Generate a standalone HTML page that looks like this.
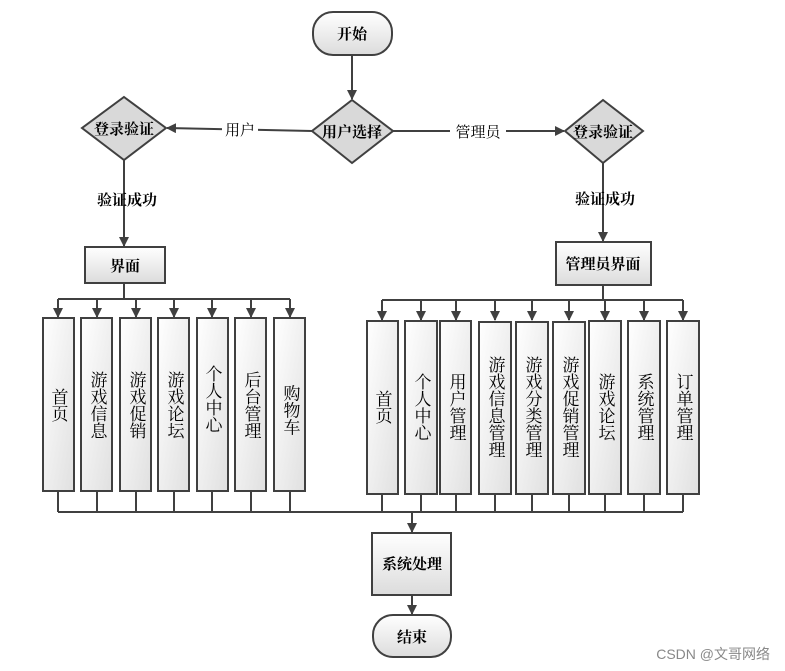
<!DOCTYPE html><html><head><meta charset="utf-8"><style>body{margin:0;background:#fff}svg{display:block}text{font-family:"Liberation Serif","Noto Serif CJK SC",serif;fill:#000}.v{writing-mode:vertical-rl;text-anchor:middle}</style></head><body>
<svg width="785" height="671" viewBox="0 0 785 671" xmlns="http://www.w3.org/2000/svg">
<defs>
<linearGradient id="g" x1="0" y1="0" x2="0" y2="1"><stop offset="0" stop-color="#fff"/><stop offset="1" stop-color="#dcdcdc"/></linearGradient>
<linearGradient id="gv" x1="0" y1="0" x2="1" y2="1"><stop offset="0" stop-color="#fff"/><stop offset="1" stop-color="#e0e0e0"/></linearGradient>
<marker id="a" markerWidth="10" markerHeight="10" refX="9" refY="5" orient="auto" markerUnits="userSpaceOnUse"><path d="M0,0 L10,5 L0,10 z" fill="#404040"/></marker>
</defs>
<g stroke="#404040" stroke-width="2" fill="none">
<line x1="352" y1="55" x2="352" y2="99" marker-end="url(#a)"/>
<line x1="312" y1="131" x2="167" y2="128" marker-end="url(#a)"/>
<line x1="393" y1="131" x2="564" y2="131" marker-end="url(#a)"/>
<line x1="124" y1="160" x2="124" y2="246" marker-end="url(#a)"/>
<line x1="603" y1="163" x2="603" y2="241" marker-end="url(#a)"/>
<line x1="124" y1="283" x2="124" y2="299"/>
<line x1="58" y1="299" x2="290" y2="299"/>
<line x1="603" y1="285" x2="603" y2="300"/>
<line x1="382" y1="300" x2="683" y2="300"/>
<line x1="58" y1="512" x2="683" y2="512"/>
<line x1="412" y1="512" x2="412" y2="532" marker-end="url(#a)"/>
<line x1="412" y1="595" x2="412" y2="614" marker-end="url(#a)"/>
</g>
<g stroke="#404040" stroke-width="2">
<line x1="58" y1="299" x2="58" y2="317" marker-end="url(#a)"/><line x1="97" y1="299" x2="97" y2="317" marker-end="url(#a)"/><line x1="136" y1="299" x2="136" y2="317" marker-end="url(#a)"/><line x1="174" y1="299" x2="174" y2="317" marker-end="url(#a)"/><line x1="212" y1="299" x2="212" y2="317" marker-end="url(#a)"/><line x1="251" y1="299" x2="251" y2="317" marker-end="url(#a)"/><line x1="290" y1="299" x2="290" y2="317" marker-end="url(#a)"/>
<line x1="382" y1="300" x2="382" y2="320" marker-end="url(#a)"/><line x1="421" y1="300" x2="421" y2="320" marker-end="url(#a)"/><line x1="456" y1="300" x2="456" y2="320" marker-end="url(#a)"/><line x1="495" y1="300" x2="495" y2="320" marker-end="url(#a)"/><line x1="532" y1="300" x2="532" y2="320" marker-end="url(#a)"/><line x1="569" y1="300" x2="569" y2="320" marker-end="url(#a)"/><line x1="605" y1="300" x2="605" y2="320" marker-end="url(#a)"/><line x1="644" y1="300" x2="644" y2="320" marker-end="url(#a)"/><line x1="683" y1="300" x2="683" y2="320" marker-end="url(#a)"/>
<path d="M58 491V512M97 491V512M136 491V512M174 491V512M212 491V512M251 491V512M290 491V512M382 494V512M421 494V512M456 494V512M495 494V512M532 494V512M569 494V512M605 494V512M644 494V512M683 494V512" fill="none"/>
</g>
<g stroke="#404040" stroke-width="2" fill="url(#g)">
<rect x="313" y="12" width="79" height="43" rx="20"/>
<rect x="373" y="615" width="78" height="42" rx="20"/>
<polygon points="124,97 166,128 124,160 82,128" fill="#d9d9d9"/>
<polygon points="352,100 393,131 352,163 312,131" fill="#d9d9d9"/>
<polygon points="603,100 643,131 603,163 565,131" fill="#d9d9d9"/>
<rect x="85" y="247" width="80" height="36"/>
<rect x="556" y="242" width="95" height="43"/>
<rect x="372" y="533" width="79" height="62"/>
</g>
<g stroke="#404040" stroke-width="2" fill="url(#gv)">
<rect x="43" y="318" width="31" height="173"/><rect x="81" y="318" width="31" height="173"/><rect x="120" y="318" width="31" height="173"/><rect x="158" y="318" width="31" height="173"/><rect x="197" y="318" width="31" height="173"/><rect x="235" y="318" width="31" height="173"/><rect x="274" y="318" width="31" height="173"/>
<rect x="367" y="321" width="31" height="173"/><rect x="405" y="321" width="32" height="173"/><rect x="440" y="321" width="31" height="173"/><rect x="479" y="322" width="32" height="172"/><rect x="516" y="322" width="32" height="172"/><rect x="553" y="322" width="32" height="172"/><rect x="589" y="321" width="32" height="173"/><rect x="628" y="321" width="32" height="173"/><rect x="667" y="321" width="32" height="173"/>
</g>
<g font-size="15" font-weight="bold" text-anchor="middle">
<text x="352" y="39">开始</text>
<text x="412" y="642">结束</text>
<text x="124" y="134">登录验证</text>
<text x="352" y="137">用户选择</text>
<text x="603" y="137">登录验证</text>
<text x="125" y="271">界面</text>
<text x="603" y="269">管理员界面</text>
<text x="412" y="569">系统处理</text>
<text x="127" y="205">验证成功</text>
<text x="605" y="204">验证成功</text>
</g>
<rect x="222" y="120" width="36" height="18" fill="#fff"/><rect x="450" y="122" width="56" height="18" fill="#fff"/>
<g font-size="15" text-anchor="middle"><text x="240" y="135">用户</text><text x="478" y="137">管理员</text></g>
<g font-size="17">
<text x="58" y="405" class="v">首页</text>
<text x="97" y="405" class="v">游戏信息</text>
<text x="136" y="405" class="v">游戏促销</text>
<text x="174" y="405" class="v">游戏论坛</text>
<text x="212" y="399" class="v">个人中心</text>
<text x="251" y="405" class="v">后台管理</text>
<text x="290" y="410" class="v">购物车</text>
<text x="382" y="407" class="v">首页</text>
<text x="421" y="407" class="v">个人中心</text>
<text x="456" y="407" class="v">用户管理</text>
<text x="495" y="407" class="v">游戏信息管理</text>
<text x="532" y="407" class="v">游戏分类管理</text>
<text x="569" y="407" class="v">游戏促销管理</text>
<text x="605" y="407" class="v">游戏论坛</text>
<text x="644" y="407" class="v">系统管理</text>
<text x="683" y="407" class="v">订单管理</text>
</g>
<text x="770" y="659" font-size="14" text-anchor="end" style="font-family:'Liberation Sans','Noto Sans CJK SC',sans-serif;fill:#888">CSDN @文哥网络</text>
</svg></body></html>
